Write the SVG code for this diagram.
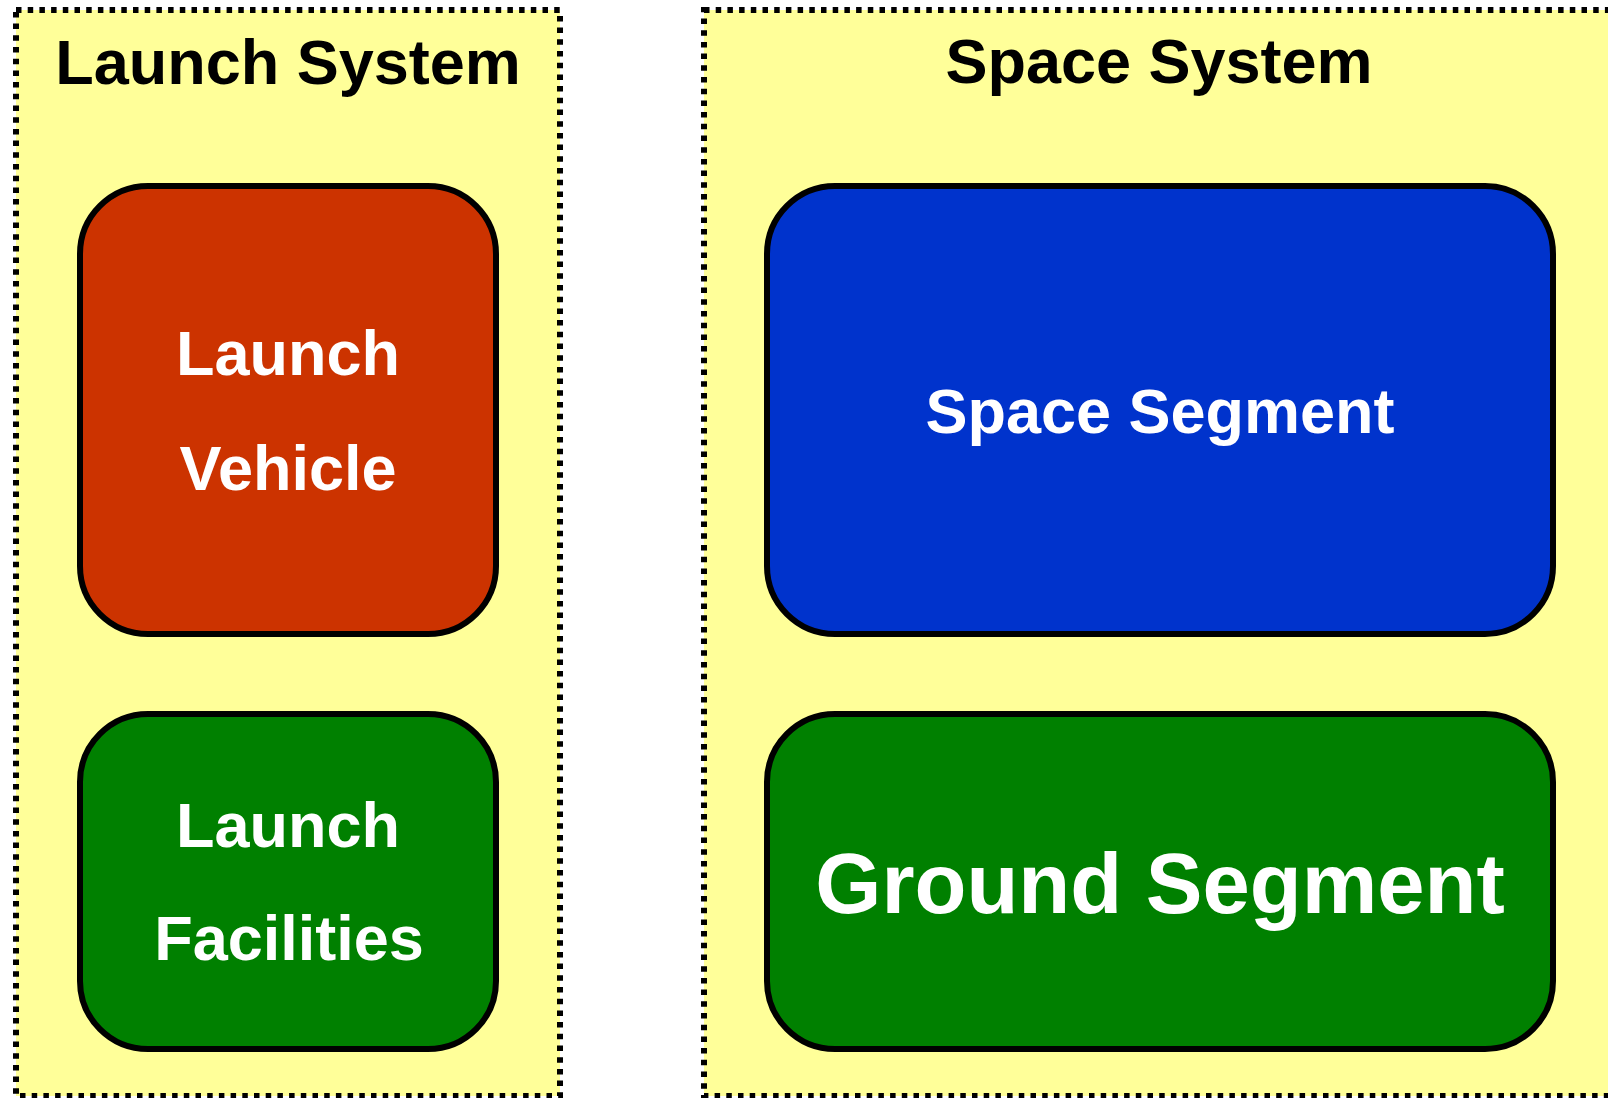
<svg xmlns="http://www.w3.org/2000/svg" width="1608" height="1098" viewBox="0 0 1608 1098">
<style>
.panel{fill:#FFFF99;stroke:#000;stroke-width:6;stroke-dasharray:5.5 6.2}
.box{stroke:#000;stroke-width:6}
.title{font-family:"Liberation Sans",Arial,sans-serif;font-weight:bold;font-size:63px;fill:#000;text-anchor:middle}
.lbl{font-family:"Liberation Sans",Arial,sans-serif;font-weight:bold;font-size:63px;fill:#fff;text-anchor:middle}
</style>
<rect width="1608" height="1098" fill="#fff"/>
<g id="launch-system">
<rect class="panel" x="16" y="10" width="544" height="1086"/>
<text class="title" x="288" y="84">Launch System</text>
</g>
<g id="space-system">
<rect class="panel" x="704" y="10" width="910" height="1086"/>
<text class="title" x="1159" y="83">Space System</text>
</g>
<g id="launch-vehicle">
<rect class="box" x="80" y="186" width="416" height="448" rx="68" fill="#CC3300"/>
<text class="lbl" x="288" y="375">Launch</text>
<text class="lbl" x="288" y="490">Vehicle</text>
</g>
<g id="launch-facilities">
<rect class="box" x="80" y="714" width="416" height="335" rx="68" fill="#008000"/>
<text class="lbl" x="288" y="847">Launch</text>
<text class="lbl" x="289" y="960">Facilities</text>
</g>
<g id="space-segment">
<rect class="box" x="767" y="186" width="786" height="448" rx="68" fill="#0033CC"/>
<text class="lbl" x="1160" y="433">Space Segment</text>
</g>
<g id="ground-segment">
<rect class="box" x="767" y="714" width="786" height="335" rx="68" fill="#008000"/>
<text class="lbl" x="1160" y="913" style="font-size:85px">Ground Segment</text>
</g>
<g id="connectors"></g>
</svg>
